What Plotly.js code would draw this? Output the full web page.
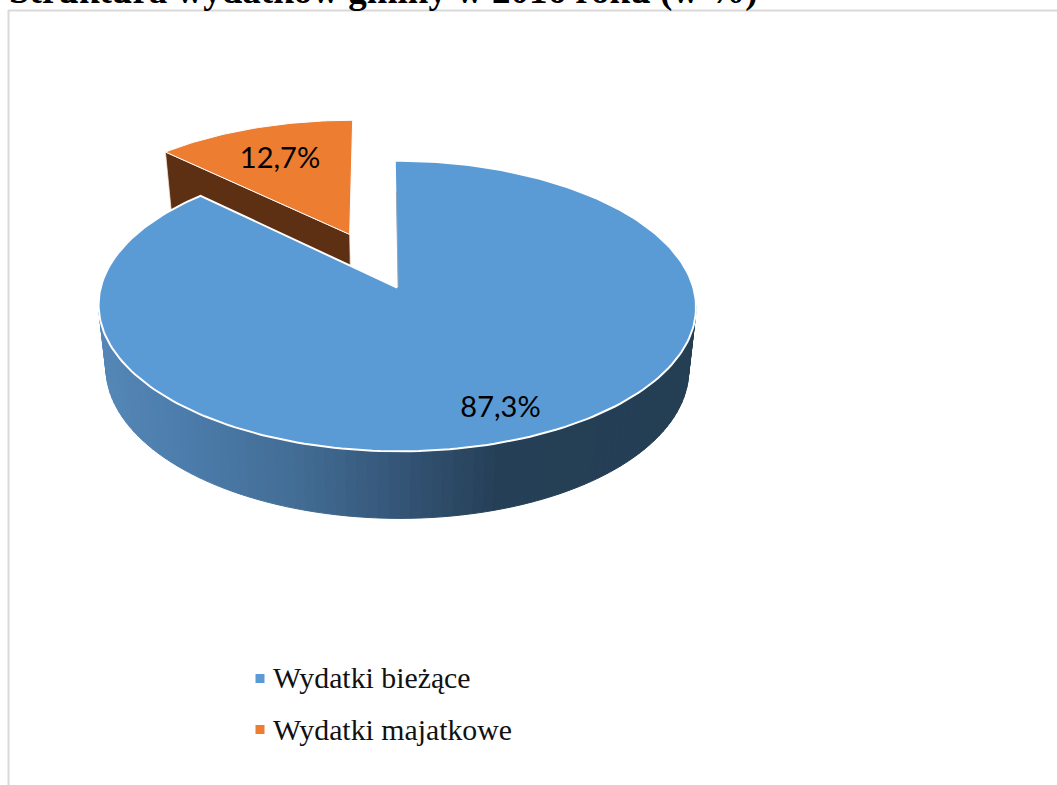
<!DOCTYPE html>
<html>
<head>
<meta charset="utf-8">
<script src="https://cdn.plot.ly/plotly-3.0.1.min.js"></script>
<style>html,body{margin:0;padding:0;background:#fff;overflow:hidden}#chart{width:1057px;height:785px}</style>
</head>
<body>
<div id="chart"></div>
<script>
// Data
const categories = ["Wydatki bieżące", "Wydatki majatkowe"];
const values = [87.3, 12.7];
const chartTitle = "Struktura wydatków gminy w 2016 roku (w %)";

// Style
const faceColors = ["#5b9bd5", "#ed7d31"];
const brownWall = "#5e3013";
const wallStops = [[99, [84,135,183]], [200, [74,122,168]], [300, [66,108,148]], [400, [52,85,119]], [500, [37,63,86]], [695, [36,62,84]]];
const serif = "'Liberation Serif', 'Times New Roman', serif";
const labelFont = "Lato, 'Noto Sans', sans-serif";

// Perspective model of the tilted disc (page pixels = axis units)
const cx = 397, k = 0.127;
const top_ = {y0: 287.5, a: 143, b: 296.3};
const pulledTop = {y0: 286.8, a: 141, b: 296.3};
const bot = {y0: 350, a: 147, b: 289};
const skew = -2.5;
function proj(plane, u, v) {
  const w = 1 + k * v;
  return [cx + (plane.b * u + skew * v) / w, plane.y0 - plane.a * v / w];
}
const rad = d => d * Math.PI / 180;
const total = values.reduce((a, b) => a + b, 0);
const sweepBlue = values[0] / total * 360;       // clockwise from 12 o'clock
const sweepOrange = values[1] / total * 360;
const midOrange = rad(sweepBlue + sweepOrange / 2);
const pull = 0.423;
const pu = Math.sin(midOrange) * pull, pv = Math.cos(midOrange) * pull;

function wallColor(x) {
  for (let i = 1; i < wallStops.length; i++) {
    if (x <= wallStops[i][0]) {
      const [x0, c0] = wallStops[i - 1], [x1, c1] = wallStops[i];
      const t = Math.max(0, (x - x0) / (x1 - x0));
      return "rgb(" + c0.map((c, j) => Math.round(c + (c1[j] - c) * t)).join(",") + ")";
    }
  }
  return "rgb(" + wallStops[wallStops.length - 1][1].join(",") + ")";
}
function poly(pts, fill, line, width) {
  return {
    type: "scatter", mode: "lines", x: pts.map(p => p[0]), y: pts.map(p => p[1]),
    fill: "toself", fillcolor: fill, line: {color: line, width: width},
    hoverinfo: "skip", showlegend: false
  };
}
const traces = [];

// Side wall of the big slice: front half, shaded left to right
const frontFrom = 180 - (90 - (180 / Math.PI) * Math.asin(k));
const frontTo = 180 + (90 - (180 / Math.PI) * Math.asin(k));
const nWall = 90;
for (let i = nWall; i > 0; i--) {
  const a0 = rad(frontFrom + (frontTo - frontFrom) * (i - 1) / nWall);
  const a1 = rad(frontFrom + (frontTo - frontFrom) * i / nWall);
  const p = [
    proj(top_, Math.sin(a0), Math.cos(a0)), proj(top_, Math.sin(a1), Math.cos(a1)),
    proj(bot, Math.sin(a1), Math.cos(a1)), proj(bot, Math.sin(a0), Math.cos(a0))
  ];
  p.push(p[0]);
  const c = wallColor((p[0][0] + p[1][0]) / 2);
  traces.push(poly(p, c, c, 1));
}

// Pulled-out slice: cut wall, then top face
const oStart = rad(sweepBlue), oEnd = rad(360);
const apexT = proj(pulledTop, pu, pv), apexB = proj(bot, pu, pv);
const cornerT = proj(pulledTop, pu + Math.sin(oStart), pv + Math.cos(oStart));
const cornerB = proj(bot, pu + Math.sin(oStart), pv + Math.cos(oStart));
traces.push(poly([cornerT, apexT, apexB, cornerB, cornerT], brownWall, "#f3e6dc", 0.75));
const oPts = [apexT];
for (let i = 0; i <= 40; i++) {
  const a = oStart + (oEnd - oStart) * i / 40;
  oPts.push(proj(pulledTop, pu + Math.sin(a), pv + Math.cos(a)));
}
oPts.push(apexT);
traces.push(poly(oPts, faceColors[1], "#ffffff", 1));

// Big slice: inner cut sliver, then top face
const bPts = [proj(top_, 0, 0)];
for (let i = 0; i <= 240; i++) {
  const a = rad(sweepBlue * i / 240);
  bPts.push(proj(top_, Math.sin(a), Math.cos(a)));
}
bPts.push(proj(top_, 0, 0));
traces.push(poly(bPts, faceColors[0], "#ffffff", 2));
const sl0 = proj(top_, 0.004, 0.73), sl1 = proj(top_, 0.004, 0.0);
traces.push({type: "scatter", mode: "lines", x: [sl0[0], sl1[0]], y: [sl0[1], sl1[1]],
  line: {color: "#93a7b8", width: 1}, hoverinfo: "skip", showlegend: false});

// Data labels
const labelPos = [[500.5, 409.5], [280, 160.5]];
traces.push({
  type: "scatter", mode: "text", x: labelPos.map(p => p[0]), y: labelPos.map(p => p[1]),
  text: values.map(v => v.toFixed(1).replace(".", ",") + "%"),
  textposition: "middle center", textfont: {family: labelFont, size: 29, color: "#000"},
  hoverinfo: "skip", showlegend: false
});

// Legend entries
const legendMarkerY = [678.5, 729.5];
const legendTextY = [680.5, 732.5];
categories.forEach((name, i) => {
  traces.push({
    type: "scatter", mode: "markers", name: name, x: [260], y: [legendMarkerY[i]],
    marker: {symbol: "square", size: 9, color: faceColors[i]},
    hoverinfo: "skip", showlegend: false
  });
  traces.push({
    type: "scatter", mode: "text", x: [273], y: [legendTextY[i]], text: [name],
    textposition: "middle right",
    textfont: {family: serif, size: 29.8, color: "#111"},
    hoverinfo: "skip", showlegend: false
  });
});

const layout = {
  width: 1057, height: 785,
  margin: {l: 0, r: 0, t: 0, b: 0},
  paper_bgcolor: "#fff", plot_bgcolor: "#fff",
  showlegend: false,
  title: {
    text: "<b>" + chartTitle + "</b>",
    x: 9 / 1057, xanchor: "left", xref: "paper",
    y: 0.996, yanchor: "bottom", yref: "paper",
    font: {family: serif, size: 37, color: "#000"}
  },
  xaxis: {range: [0, 1057], visible: false, fixedrange: true},
  yaxis: {range: [785, 0], visible: false, fixedrange: true},
  shapes: [
    {type: "line", xref: "x", yref: "y", x0: 8.5, x1: 8.5, y0: 10, y1: 785, line: {color: "#d9d9d9", width: 2}},
    {type: "line", xref: "x", yref: "y", x0: 8, x1: 1057, y0: 10.5, y1: 10.5, line: {color: "#d9d9d9", width: 2}}
  ]
};
Plotly.newPlot("chart", traces, layout, {displayModeBar: false, responsive: false, staticPlot: true});
</script>
</body>
</html>
